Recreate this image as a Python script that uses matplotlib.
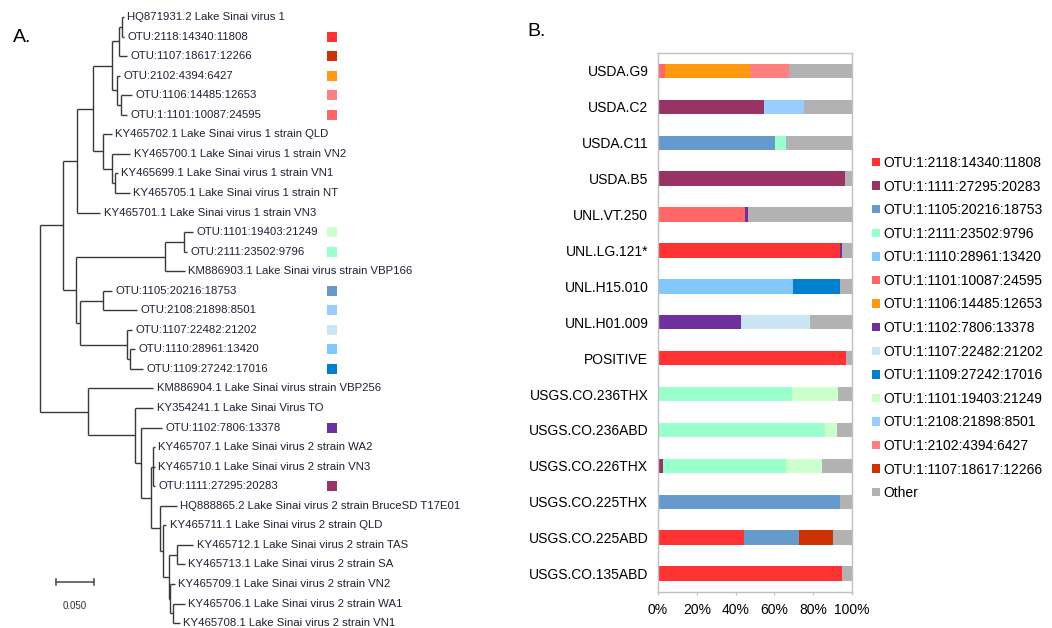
import matplotlib.pyplot as plt
from matplotlib.patches import Patch

plt.rcParams['font.family'] = ['Liberation Sans', 'DejaVu Sans']

# ---------------- panel A: phylogenetic tree ----------------
# tips numbered top to bottom as drawn
tip_labels = [
    "HQ871931.2 Lake Sinai virus 1",
    "OTU:2118:14340:11808",
    "OTU:1107:18617:12266",
    "OTU:2102:4394:6427",
    "OTU:1106:14485:12653",
    "OTU:1:1101:10087:24595",
    "KY465702.1 Lake Sinai virus 1 strain QLD",
    "KY465700.1 Lake Sinai virus 1 strain VN2",
    "KY465699.1 Lake Sinai virus 1 strain VN1",
    "KY465705.1 Lake Sinai virus 1 strain NT",
    "KY465701.1 Lake Sinai virus 1 strain VN3",
    "OTU:1101:19403:21249",
    "OTU:2111:23502:9796",
    "KM886903.1 Lake Sinai virus strain VBP166",
    "OTU:1105:20216:18753",
    "OTU:2108:21898:8501",
    "OTU:1107:22482:21202",
    "OTU:1110:28961:13420",
    "OTU:1109:27242:17016",
    "KM886904.1 Lake Sinai virus strain VBP256",
    "KY354241.1 Lake Sinai Virus TO",
    "OTU:1102:7806:13378",
    "KY465707.1 Lake Sinai virus 2 strain WA2",
    "KY465710.1 Lake Sinai virus 2 strain VN3",
    "OTU:1111:27295:20283",
    "HQ888865.2 Lake Sinai virus 2 strain BruceSD T17E01",
    "KY465711.1 Lake Sinai virus 2 strain QLD",
    "KY465712.1 Lake Sinai virus 2 strain TAS",
    "KY465713.1 Lake Sinai virus 2 strain SA",
    "KY465709.1 Lake Sinai virus 2 strain VN2",
    "KY465706.1 Lake Sinai virus 2 strain WA1",
    "KY465708.1 Lake Sinai virus 2 strain VN1",
]

# newick with tip indices, branch lengths in substitutions/site
tree_newick = (
    "(((((((0:0.0030,1:0.0030):0.0032,2:0.0097):0.0092,"
    "(3:0.0050,(4:0.0145,5:0.0079):0.0053):0.0058):0.0250,"
    "(6:0.0111,(7:0.0241,(8:0.0033,9:0.0197):0.0043):0.0111):0.0132):0.0218,"
    "10:0.0307):0.0184,"
    "(((11:0.0118,12:0.0039):0.0250,13:0.0263):0.1175,"
    "((14:0.0118,15:0.0447):0.0299,"
    "(16:0.0066,(17:0.0066,18:0.0175):0.0043):0.0614):0.0057):0.0171):0.0299,"
    "(19:0.0863,(20:0.0241,(21:0.0272,((22:0.0022,23:0.0022,24:0.0022):0.0034,"
    "(25:0.0220,(26:0.0039,((27:0.0218,28:0.0109):0.0097,"
    "(29:0.0066,(30:0.0154,31:0.0088):0.0043):0.0009):0.0079):0.0043):0.0122)"
    ":0.0128):0.0079):0.0622):0.0628);"
)

# coloured squares beside the OTU tips
tip_squares = {
    1: '#FF3333', 2: '#CC3300', 3: '#FF9912', 4: '#FF8080', 5: '#FF6666',
    11: '#CCFFCC', 12: '#99FFCC', 14: '#6699CC', 15: '#99CCFF', 16: '#CCE5F5',
    17: '#80C8FF', 18: '#0080CC', 21: '#7030A0', 24: '#993366',
}

# ---------------- panel B: relative abundance ----------------
samples = ["USDA.G9", "USDA.C2", "USDA.C11", "USDA.B5", "UNL.VT.250",
           "UNL.LG.121*", "UNL.H15.010", "UNL.H01.009", "POSITIVE",
           "USGS.CO.236THX", "USGS.CO.236ABD", "USGS.CO.226THX",
           "USGS.CO.225THX", "USGS.CO.225ABD", "USGS.CO.135ABD"]

otu_names = ["OTU:1:2118:14340:11808", "OTU:1:1111:27295:20283",
             "OTU:1:1105:20216:18753", "OTU:1:2111:23502:9796",
             "OTU:1:1110:28961:13420", "OTU:1:1101:10087:24595",
             "OTU:1:1106:14485:12653", "OTU:1:1102:7806:13378",
             "OTU:1:1107:22482:21202", "OTU:1:1109:27242:17016",
             "OTU:1:1101:19403:21249", "OTU:1:2108:21898:8501",
             "OTU:1:2102:4394:6427", "OTU:1:1107:18617:12266", "Other"]
otu_colors = ['#FF3333', '#993366', '#6699CC', '#99FFCC', '#80C8FF',
              '#FF6666', '#FF9912', '#7030A0', '#CCE5F5', '#0080CC',
              '#CCFFCC', '#99CCFF', '#FF8080', '#CC3300', '#B2B2B2']

# percent per sample, same order as samples
otu_2118 = [0, 0, 0, 0, 0, 93.6, 0, 0, 96.7, 0, 0, 0, 0, 44.1, 95.0]
otu_1111 = [0, 54.7, 0, 96.4, 0, 0, 0, 0, 0, 0, 0, 2.8, 0, 0, 0]
otu_1105 = [0, 0, 60.3, 0, 0, 0, 0, 0, 0, 0, 0, 0, 93.6, 28.8, 0]
otu_2111 = [0, 0, 5.9, 0, 0, 0, 0, 0, 0, 69.0, 86.2, 63.2, 0, 0, 0]
otu_1110 = [0, 0, 0, 0, 0, 0, 69.7, 0, 0, 0, 0, 0, 0, 0, 0]
otu_1101_10087 = [3.6, 0, 0, 0, 45.0, 0, 0, 0, 0, 0, 0, 0, 0, 0, 0]
otu_1106 = [43.6, 0, 0, 0, 0, 0, 0, 0, 0, 0, 0, 0, 0.3, 0, 0]
otu_1102 = [0, 0, 0, 0, 1.4, 1.2, 0, 42.8, 0, 0, 0, 0, 0, 0, 0]
otu_1107_22482 = [0, 0, 0, 0, 0, 0, 0, 35.8, 0, 0, 0, 0, 0, 0, 0]
otu_1109 = [0, 0, 0, 0, 0, 0, 24.3, 0, 0, 0.3, 0, 0, 0, 0, 0]
otu_1101_19403 = [0, 0, 0, 0, 0, 0, 0, 0, 0, 23.5, 6.2, 18.3, 0, 0, 0]
otu_2108 = [0, 20.8, 0, 0, 0, 0, 0, 0, 0, 0, 0, 0, 0, 0, 0]
otu_2102 = [20.4, 0, 0, 0, 0, 0, 0, 0, 0, 0, 0, 0, 0, 0, 0]
otu_1107_18617 = [0, 0, 0, 0, 0, 0, 0, 0, 0, 0, 0, 0, 0, 17.3, 0]
other = [32.4, 24.5, 33.8, 3.6, 53.6, 5.2, 6.0, 21.4, 3.3, 7.2, 7.6, 15.7, 6.1, 9.8, 5.0]

series = [otu_2118, otu_1111, otu_1105, otu_2111, otu_1110, otu_1101_10087,
          otu_1106, otu_1102, otu_1107_22482, otu_1109, otu_1101_19403,
          otu_2108, otu_2102, otu_1107_18617, other]


def parse_newick(s):
    pos = 0

    def node():
        nonlocal pos
        children = []
        if s[pos] == '(':
            pos += 1
            children.append(node())
            while s[pos] == ',':
                pos += 1
                children.append(node())
            pos += 1
        name = ''
        while s[pos] not in ':,);':
            name += s[pos]
            pos += 1
        length = 0.0
        if s[pos] == ':':
            pos += 1
            num = ''
            while s[pos] not in ',);':
                num += s[pos]
                pos += 1
            length = float(num)
        return {'name': name, 'children': children, 'length': length}

    return node()


LINE = '#383838'
TEXT = '#202035'


def draw_node(ax, n, x0):
    x = x0 + n['length']
    if n['children']:
        ys = [draw_node(ax, c, x) for c in n['children']]
        y = (ys[0] + ys[-1]) / 2
        ax.plot([x, x], [ys[0], ys[-1]], color=LINE, lw=1.0, solid_capstyle='butt')
    else:
        y = int(n['name'])
        ax.annotate(tip_labels[y], (x, y), xytext=(2.5, 0), textcoords='offset points',
                    va='center', ha='left', fontsize=8.2, color=TEXT)
    if n['length'] > 0:
        ax.plot([x0, x], [y, y], color=LINE, lw=1.0, solid_capstyle='butt')
    return y


fig = plt.figure(figsize=(10.52, 6.28), dpi=100)

# tree
ax_t = fig.add_axes([0, 0, 520 / 1052, 1])
root = parse_newick(tree_newick)
draw_node(ax_t, root, 0.0)
for tip, col in tip_squares.items():
    ax_t.scatter(0.384, tip, marker='s', s=46, color=col, linewidths=0)
# scale bar
ax_t.plot([0.021, 0.071], [28.9, 28.9], color='#555555', lw=1.2)
for xb in (0.021, 0.071):
    ax_t.plot([xb, xb], [28.75, 29.05], color='#555555', lw=1.2)
ax_t.text(0.046, 30.1, "0.050", ha='center', va='center', fontsize=7, color='#333333')
ax_t.set_xlim(-40 / 760, 480 / 760)
ax_t.set_ylim(31.25, -0.87)
ax_t.axis('off')

# stacked bars
ax_b = fig.add_axes([658 / 1052, 36.5 / 628, 194 / 1052, 538.5 / 628])
ypos = list(range(len(samples)))
left = [0.0] * len(samples)
for vals, col, name in zip(series, otu_colors, otu_names):
    ax_b.barh(ypos, vals, left=left, height=0.4, color=col, linewidth=0, label=name)
    left = [a + b for a, b in zip(left, vals)]
ax_b.set_xlim(0, 100)
ax_b.set_ylim(len(samples) - 0.5, -0.5)
ax_b.set_yticks(ypos)
ax_b.set_yticklabels(samples, fontsize=10)
ax_b.set_xticks([0, 20, 40, 60, 80, 100])
ax_b.set_xticklabels(["0%", "20%", "40%", "60%", "80%", "100%"], fontsize=10)
ax_b.tick_params(axis='y', length=0, pad=7)
ax_b.tick_params(axis='x', length=2.5, color='#BFBFBF', pad=6)
for sp in ax_b.spines.values():
    sp.set_color('#BFBFBF')
    sp.set_linewidth(1.0)

handles = [Patch(facecolor=c, edgecolor='none') for c in otu_colors]
fig.legend(handles, otu_names, loc='upper left', bbox_to_anchor=(872 / 1052, 1 - 156 / 628),
           frameon=False, fontsize=10, handlelength=0.55, handleheight=0.55,
           handletextpad=0.25, labelspacing=0.69, borderpad=0, borderaxespad=0)

fig.text(13 / 1052, 1 - 37 / 628, "A.", fontsize=14, va='center', ha='left')
fig.text(527 / 1052, 1 - 31 / 628, "B.", fontsize=14, va='center', ha='left')

fig.savefig("out.png", dpi=100)
